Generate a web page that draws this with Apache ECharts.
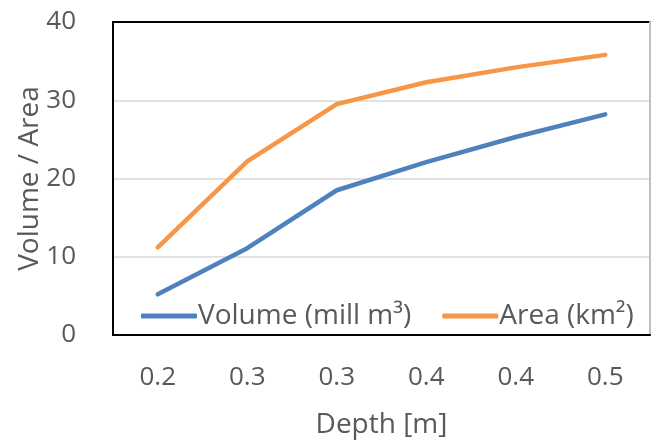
<!DOCTYPE html>
<html><head><meta charset="utf-8">
<script src="https://cdn.jsdelivr.net/npm/echarts@6/dist/echarts.min.js"></script>
<style>html,body{margin:0;padding:0;background:#fff}#c{width:656px;height:442px}</style>
</head><body><div id="c"></div>
<script>
var depthLabels = ['0.2','0.3','0.3','0.4','0.4','0.5'];
var volume = [5.2, 11.1, 18.5, 22.1, 25.3, 28.2];
var area = [11.2, 22.2, 29.5, 32.3, 34.2, 35.8];
var yTicks = [0, 10, 20, 30, 40];

var font = 'Open Sans';
var txt = '#595959';
var chart = echarts.init(document.getElementById('c'));
chart.setOption({
  animation: false,
  backgroundColor: '#fff',
  textStyle: {fontFamily: font},
  grid: {left: 113, top: 22, right: 6, bottom: 107, show: true,
         outerBoundsMode: 'none', containLabel: false,
         borderColor: '#000', borderWidth: 2, backgroundColor: 'transparent'},
  legend: {
    data: ['Volume (mill m³)', 'Area (km²)'],
    left: 136, top: 297,
    itemWidth: 56, itemHeight: 5, itemGap: 31,
    icon: 'roundRect',
    textStyle: {color: txt, fontSize: 28, fontFamily: font, padding: [0,0,0,-4]}
  },
  xAxis: [{
    type: 'category', data: depthLabels, boundaryGap: true,
    name: 'Depth [m]', nameLocation: 'middle', nameGap: 76, nameMoveOverlap: false,
    nameTextStyle: {color: txt, fontSize: 28, fontFamily: font},
    axisLine: {show: true, lineStyle: {color: '#000', width: 2}},
    axisTick: {show: false},
    axisLabel: {color: txt, fontSize: 26, fontFamily: font, margin: 30}
  }],
  yAxis: [{
    type: 'value', min: 0, max: 40, interval: 10,
    name: 'Volume / Area', nameLocation: 'middle', nameGap: 69, nameMoveOverlap: false,
    nameTextStyle: {color: txt, fontSize: 28, fontFamily: font},
    axisLine: {show: true, lineStyle: {color: '#000', width: 2}},
    axisTick: {show: false},
    axisLabel: {color: txt, fontSize: 26, fontFamily: font, margin: 37,
      formatter: function(v){ return yTicks.indexOf(v) >= 0 ? String(v) : ''; }},
    splitLine: {show: true, showMaxLine: false, showMinLine: false,
      lineStyle: {color: '#d9d9d9', width: 1.5}}
  }, {
    type: 'value', min: 0, max: 40, interval: 10, position: 'right',
    axisLine: {show: true, lineStyle: {color: '#bfbfbf', width: 2}},
    axisTick: {show: false}, axisLabel: {show: false}, splitLine: {show: false}
  }],
  series: [{
    name: 'Volume (mill m³)', type: 'line', data: volume,
    symbol: 'none', color: '#4f81bd',
    lineStyle: {width: 4.5, cap: 'round', join: 'round'}
  }, {
    name: 'Area (km²)', type: 'line', data: area,
    symbol: 'none', color: '#f79646',
    lineStyle: {width: 4.5, cap: 'round', join: 'round'}
  }]
});
</script></body></html>
